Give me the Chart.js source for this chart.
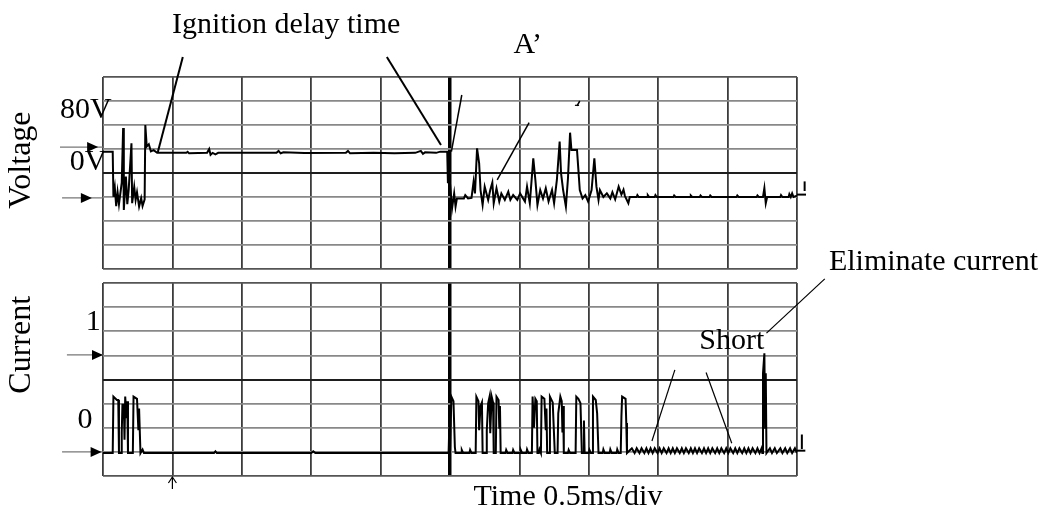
<!DOCTYPE html>
<html>
<head>
<meta charset="utf-8">
<script src="https://cdn.jsdelivr.net/npm/chart.js@4/dist/chart.umd.min.js"></script>
<style>
    html, body { margin: 0; background: #fff; }
    #wrap { position: relative; width: 1059px; height: 515px; }
    #wrap canvas { position: absolute; left: 0; top: 0; }
</style>
</head>
<body>
<div id="wrap">
    <canvas id="voltChart" width="1059" height="515"></canvas>
    <canvas id="curChart" width="1059" height="515"></canvas>
</div>
<script>
// time in divisions (0.5 ms/div), level in screen divisions
const voltBurst = [
    [0.00, 4.89], [0.14, 4.89], [0.15, 3.01], [0.17, 3.40], [0.19, 2.62], [0.21, 3.20],
    [0.23, 2.70], [0.27, 3.60], [0.29, 5.87], [0.30, 2.46], [0.33, 3.85], [0.35, 2.70],
    [0.37, 3.30], [0.41, 5.24], [0.42, 2.74], [0.45, 3.42], [0.47, 2.88], [0.49, 3.20],
    [0.52, 2.60], [0.55, 2.95], [0.57, 2.62], [0.60, 2.90], [0.61, 6.00], [0.63, 5.10],
    [0.66, 5.20], [0.69, 4.90], [0.73, 4.95], [0.78, 4.84]
];
const voltIdle = [
    [1.20, 4.84], [1.22, 4.88], [1.24, 4.82], [1.50, 4.84], [1.53, 5.00], [1.55, 4.76],
    [1.58, 4.84], [1.62, 4.78], [1.66, 4.84], [2.50, 4.84], [2.53, 4.92], [2.56, 4.82],
    [2.60, 4.86], [2.90, 4.83], [3.50, 4.84], [3.53, 4.92], [3.56, 4.82], [3.90, 4.84],
    [4.20, 4.82], [4.50, 4.84], [4.58, 4.92], [4.61, 4.80], [4.64, 4.86], [4.80, 4.84],
    [4.86, 4.89], [4.96, 4.89]
];
const voltArc = [
    [4.97, 3.57], [4.98, 4.60], [4.99, 3.20], [5.00, 3.57], [5.03, 2.53], [5.06, 3.15],
    [5.08, 2.60], [5.10, 2.94], [5.20, 2.94], [5.22, 3.08], [5.26, 2.94], [5.31, 2.96],
    [5.34, 3.64], [5.36, 3.15], [5.39, 5.03], [5.42, 4.40], [5.44, 3.29], [5.47, 2.67],
    [5.50, 3.43], [5.55, 2.88], [5.58, 3.29], [5.61, 3.60], [5.63, 2.74], [5.67, 3.36],
    [5.71, 2.81], [5.74, 3.15], [5.79, 2.88], [5.84, 3.22], [5.87, 2.88], [5.91, 3.08],
    [5.97, 2.88], [6.01, 3.15], [6.08, 2.81], [6.11, 3.43], [6.15, 2.74], [6.20, 4.61],
    [6.23, 3.71], [6.26, 2.67], [6.30, 3.29], [6.34, 2.94], [6.38, 3.36], [6.42, 2.81],
    [6.47, 3.29], [6.50, 2.74], [6.54, 3.71], [6.58, 5.31], [6.60, 3.99], [6.63, 3.29],
    [6.67, 2.60], [6.70, 3.78], [6.73, 5.68], [6.75, 4.96], [6.83, 4.96], [6.85, 4.13],
    [6.87, 3.29], [6.91, 2.94], [6.95, 3.08], [6.99, 2.81], [7.04, 3.29], [7.08, 4.61],
    [7.11, 3.43], [7.14, 2.88], [7.16, 3.29], [7.21, 3.00], [7.26, 3.15], [7.31, 2.94],
    [7.34, 3.20], [7.38, 2.90], [7.43, 3.43], [7.47, 3.10], [7.50, 3.30], [7.52, 3.05],
    [7.57, 2.74], [7.59, 3.00]
];
const voltTail = [
    [7.69, 3.00], [7.70, 3.08], [7.72, 3.00], [7.84, 3.00], [7.85, 3.08], [7.87, 3.00],
    [7.95, 3.00], [7.96, 3.08], [7.98, 3.00], [8.22, 3.00], [8.23, 3.06], [8.25, 3.00],
    [8.46, 3.00], [8.47, 3.06], [8.49, 3.00], [8.60, 3.00], [8.61, 3.06], [8.63, 3.00],
    [8.74, 3.00], [8.75, 3.06], [8.77, 3.00], [9.13, 3.00], [9.14, 3.06], [9.16, 3.00],
    [9.42, 3.00], [9.43, 3.06], [9.45, 3.00], [9.51, 3.00], [9.53, 3.37], [9.55, 2.74],
    [9.57, 3.00], [9.76, 3.00], [9.77, 3.08], [9.79, 3.00], [9.88, 3.00], [9.89, 3.12],
    [9.91, 3.00], [9.93, 3.15], [9.95, 3.00], [10.0, 3.05]
];

const curBurst = [
    [0.00, 0.95], [0.14, 0.95], [0.15, 3.29], [0.20, 3.15], [0.22, 3.15], [0.23, 0.95],
    [0.26, 0.95], [0.27, 1.80], [0.28, 2.95], [0.30, 2.95], [0.31, 1.50], [0.32, 3.29],
    [0.34, 2.40], [0.35, 3.10], [0.36, 0.95], [0.43, 0.95], [0.44, 3.29], [0.49, 3.20],
    [0.51, 1.90], [0.52, 2.80], [0.54, 0.95], [0.57, 1.10], [0.59, 0.95]
];
const curIdle = [
    [1.60, 0.95], [1.62, 1.02], [1.64, 0.95], [3.00, 0.95], [3.03, 1.02], [3.06, 0.95],
    [4.98, 0.95]
];
const curArc = [
    [4.99, 2.05], [5.00, 0.95], [5.02, 3.29], [5.05, 3.10], [5.07, 1.20], [5.08, 0.95],
    [5.16, 0.95], [5.17, 1.08], [5.19, 0.95], [5.28, 0.95], [5.29, 1.08], [5.31, 0.95],
    [5.37, 0.95], [5.38, 3.29], [5.41, 3.10], [5.42, 1.90], [5.44, 2.90], [5.46, 3.05],
    [5.47, 0.95], [5.52, 0.95], [5.53, 1.90], [5.55, 3.02], [5.57, 3.29], [5.58, 1.77],
    [5.60, 3.29], [5.62, 3.05], [5.63, 0.95], [5.66, 0.95], [5.67, 3.29], [5.70, 3.15],
    [5.71, 2.00], [5.72, 2.90], [5.73, 0.95], [5.80, 0.95], [5.81, 1.08], [5.83, 0.95],
    [5.90, 0.95], [5.91, 1.08], [5.93, 0.95], [6.01, 0.95], [6.02, 1.08], [6.04, 0.95],
    [6.10, 0.95], [6.11, 1.10], [6.13, 0.95], [6.18, 0.95], [6.19, 3.29], [6.21, 2.00],
    [6.23, 3.20], [6.25, 3.10], [6.26, 0.95], [6.28, 0.95], [6.29, 1.10], [6.31, 0.95],
    [6.32, 3.29], [6.36, 3.20], [6.38, 1.90], [6.39, 2.80], [6.40, 0.95], [6.43, 0.95],
    [6.44, 3.29], [6.48, 3.05], [6.51, 0.95], [6.55, 0.95], [6.56, 2.60], [6.59, 3.29],
    [6.61, 3.10], [6.62, 1.80], [6.63, 2.90], [6.64, 0.95], [6.70, 0.95], [6.71, 1.08],
    [6.73, 0.95], [6.81, 0.95], [6.82, 3.29], [6.85, 3.20], [6.88, 3.02], [6.90, 0.95],
    [6.92, 0.95], [6.93, 2.30], [6.94, 0.95], [7.00, 0.95], [7.01, 1.08], [7.03, 0.95],
    [7.05, 0.95], [7.06, 3.29], [7.10, 3.15], [7.12, 2.60], [7.14, 0.95], [7.20, 0.95],
    [7.21, 1.10], [7.23, 0.95], [7.30, 0.95], [7.31, 1.10], [7.33, 0.95], [7.40, 0.95],
    [7.41, 1.10], [7.43, 0.95], [7.46, 0.95], [7.47, 2.46], [7.48, 3.29], [7.53, 3.20],
    [7.54, 2.20], [7.55, 0.95]
];
const curTail = [
    [7.62, 1.15], [7.66, 0.95], [7.69, 1.15], [7.73, 0.95], [7.76, 1.15], [7.80, 0.95],
    [7.83, 1.15], [7.86, 0.95], [7.89, 1.15], [7.92, 0.95], [7.95, 1.15], [7.99, 0.95],
    [8.02, 1.15], [8.05, 0.95], [8.08, 1.15], [8.12, 0.95], [8.15, 1.15], [8.18, 0.95],
    [8.21, 1.15], [8.24, 0.95], [8.27, 1.15], [8.31, 0.95], [8.34, 1.15], [8.37, 0.95],
    [8.40, 1.15], [8.44, 0.95], [8.47, 1.15], [8.50, 0.95], [8.53, 1.15], [8.56, 0.95],
    [8.59, 1.15], [8.63, 0.95], [8.66, 1.15], [8.69, 0.95], [8.72, 1.15], [8.75, 0.95],
    [8.78, 1.15], [8.82, 0.95], [8.85, 1.15], [8.88, 0.95], [8.91, 1.15], [8.95, 0.95],
    [8.98, 1.15], [9.01, 0.95], [9.04, 1.15], [9.08, 0.95], [9.11, 1.15], [9.14, 0.95],
    [9.17, 1.15], [9.21, 0.95], [9.24, 1.15], [9.27, 0.95], [9.30, 1.15], [9.33, 0.95],
    [9.36, 1.15], [9.40, 0.95], [9.43, 1.15], [9.46, 0.95], [9.49, 1.15], [9.50, 0.95],
    [9.51, 4.26], [9.53, 5.09], [9.54, 2.00], [9.55, 4.26], [9.56, 0.95], [9.61, 1.15],
    [9.64, 0.95], [9.68, 1.15], [9.71, 0.95], [9.76, 1.15], [9.79, 0.95], [9.83, 1.15],
    [9.86, 0.95], [9.90, 1.15], [9.93, 0.95], [9.97, 1.15], [10.0, 0.95]
];

const xDivs = 10;
const yDivs = 8;
const serif = '"Liberation Serif", "Times New Roman", serif';

// labels and leader lines, in each panel's own division units
const voltNotes = {
    texts: [
        { t: 'Ignition delay time', x: 2.64, y: 10.17 },
        { t: 'A\u2019', x: 6.12, y: 9.33 },
        { t: '80V', x: -0.62, y: 6.63, align: 'left' },
        { t: '0V', x: -0.48, y: 4.46, align: 'left' },
        { t: 'Voltage', x: -1.17, y: 4.54, rot: true, size: 32 }
    ],
    lines: [
        { a: [1.15, 8.83], b: [0.79, 4.88], w: 2 },
        { a: [4.09, 8.83], b: [4.87, 5.17], w: 2 },
        { a: [5.17, 7.25], b: [5.02, 4.89], w: 1.5 },
        { a: [6.14, 6.10], b: [5.68, 3.71], w: 1.5 },
        { a: [6.87, 7.00], b: [6.83, 6.80], w: 1.5 },
        { a: [6.80, 6.82], b: [6.86, 6.82], w: 1.2 },
        { a: [10.11, 3.65], b: [10.11, 3.25], w: 2 },
        { a: [10.0, 3.1], b: [10.13, 3.1], w: 2 }
    ],
    arrows: [
        { from: -0.62, tip: -0.07, y: 5.08 },
        { from: -0.59, tip: -0.16, y: 2.96 }
    ]
};
const curNotes = {
    texts: [
        { t: 'Current', x: -1.17, y: 5.44, rot: true, size: 32 },
        { t: '1', x: -0.14, y: 6.39 },
        { t: '0', x: -0.26, y: 2.32 },
        { t: 'Short', x: 9.06, y: 5.60 },
        { t: 'Eliminate current', x: 10.46, y: 8.88, align: 'left' },
        { t: 'Time 0.5ms/div', x: 6.70, y: -0.87 }
    ],
    lines: [
        { a: [8.24, 4.40], b: [7.91, 1.45], w: 1.2 },
        { a: [8.69, 4.29], b: [9.06, 1.36], w: 1.2 },
        { a: [10.40, 8.17], b: [9.56, 5.92], w: 1.2 },
        { a: [10.07, 1.72], b: [10.07, 1.12], w: 2 },
        { a: [10.0, 1.05], b: [10.12, 1.05], w: 2 },
        { a: [1.0, -0.04], b: [1.0, -0.54], w: 1.2 }
    ],
    arrows: [
        { from: -0.52, tip: 0.0, y: 5.02 },
        { from: -0.59, tip: -0.02, y: 1.00 }
    ],
    ups: [ { x: 1.0, y: -0.04 } ]
};

const notesPlugin = {
    id: 'notes',
    afterDraw(chart, args, opts) {
        const { ctx } = chart;
        const sx = chart.scales.x, sy = chart.scales.y;
        const px = v => sx.getPixelForValue(v);
        const py = v => sy.getPixelForValue(v);
        ctx.save();
        ctx.fillStyle = '#000';
        ctx.strokeStyle = '#000';
        ctx.lineCap = 'butt';

        (opts.lines || []).forEach(l => {
            ctx.lineWidth = l.w;
            ctx.beginPath();
            ctx.moveTo(px(l.a[0]), py(l.a[1]));
            ctx.lineTo(px(l.b[0]), py(l.b[1]));
            ctx.stroke();
        });

        (opts.arrows || []).forEach(a => {
            const y = py(a.y), tip = px(a.tip);
            ctx.strokeStyle = '#777';
            ctx.lineWidth = 1.2;
            ctx.beginPath();
            ctx.moveTo(px(a.from), y);
            ctx.lineTo(px(0), y);
            ctx.stroke();
            ctx.fillStyle = '#000';
            ctx.beginPath();
            ctx.moveTo(tip, y);
            ctx.lineTo(tip - 11, y - 5);
            ctx.lineTo(tip - 11, y + 5);
            ctx.closePath();
            ctx.fill();
        });

        ctx.strokeStyle = '#000';
        (opts.ups || []).forEach(u => {
            const x = px(u.x), y = py(u.y);
            ctx.lineWidth = 1.2;
            ctx.beginPath();
            ctx.moveTo(x - 4, y + 6);
            ctx.lineTo(x, y);
            ctx.lineTo(x + 4, y + 6);
            ctx.stroke();
        });

        (opts.texts || []).forEach(t => {
            ctx.font = (t.size || 30) + 'px ' + serif;
            ctx.textAlign = t.align || 'center';
            ctx.textBaseline = 'middle';
            ctx.fillStyle = '#000';
            if (t.rot) {
                ctx.save();
                ctx.translate(px(t.x), py(t.y));
                ctx.rotate(-Math.PI / 2);
                ctx.fillText(t.t, 0, 0);
                ctx.restore();
            } else {
                ctx.fillText(t.t, px(t.x), py(t.y));
            }
        });
        ctx.restore();
    }
};

function scopeScales() {
    return {
        x: {
            type: 'linear', min: 0, max: xDivs,
            ticks: { display: false, stepSize: 1 },
            border: { display: false },
            grid: {
                drawTicks: false,
                color: c => c.tick.value === 5 ? '#000' : '#3c3c3c',
                lineWidth: c => c.tick.value === 5 ? 3.5 : 1.8
            },
            afterFit: s => { s.height = 0; }
        },
        y: {
            type: 'linear', min: 0, max: yDivs,
            ticks: { display: false, stepSize: 1 },
            border: { display: false },
            grid: {
                drawTicks: false,
                color: c => c.tick.value === 4 ? '#1e1e1e' : (c.tick.value % 8 === 0 ? '#555' : '#888'),
                lineWidth: c => c.tick.value === 4 ? 2 : 1.7
            },
            afterFit: s => { s.width = 0; }
        }
    };
}

function traceSet(pairs) {
    return {
        data: pairs.map(p => ({ x: p[0], y: p[1] })),
        borderColor: '#000',
        borderWidth: 2,
        pointRadius: 0,
        tension: 0,
        fill: false
    };
}

function makeScope(id, pairs, padding, notes) {
    return new Chart(document.getElementById(id), {
        type: 'line',
        data: { datasets: [traceSet(pairs)] },
        options: {
            responsive: false,
            animation: false,
            devicePixelRatio: 1,
            layout: { padding: padding },
            scales: scopeScales(),
            plugins: { legend: { display: false }, tooltip: { enabled: false }, notes: notes }
        },
        plugins: [notesPlugin]
    });
}

makeScope('voltChart', [...voltBurst, ...voltIdle, ...voltArc, ...voltTail],
    { left: 103, top: 77, right: 262, bottom: 246 }, voltNotes);
makeScope('curChart', [...curBurst, ...curIdle, ...curArc, ...curTail],
    { left: 103, top: 283, right: 262, bottom: 39 }, curNotes);
</script>
</body>
</html>
